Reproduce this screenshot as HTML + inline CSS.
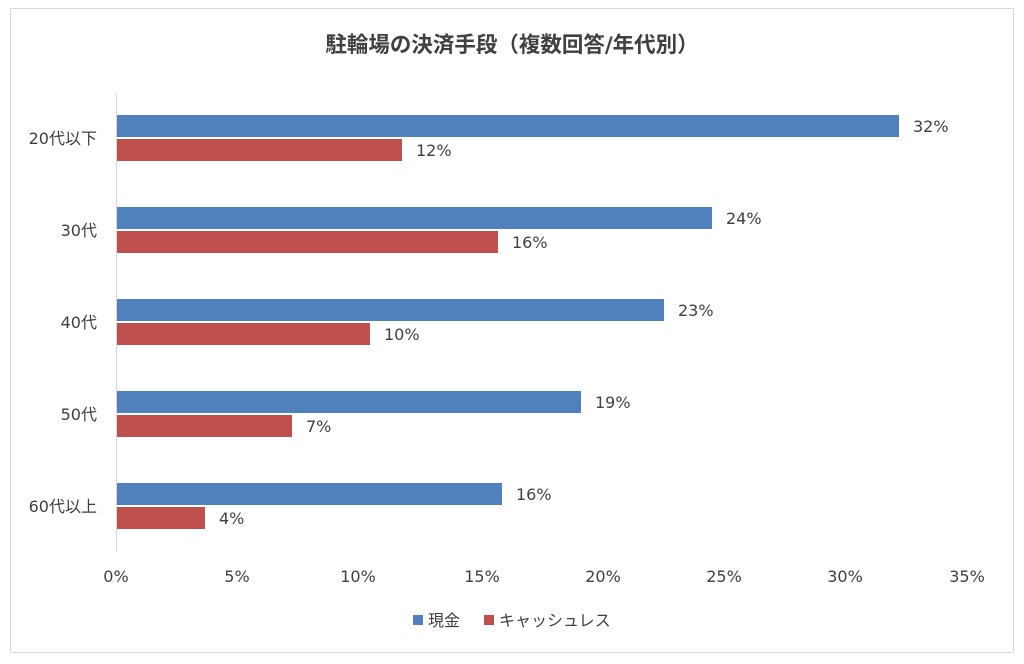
<!DOCTYPE html>
<html><head><meta charset="utf-8"><style>
body{margin:0;background:#fff;}
svg text{font-family:"DejaVu Sans","Noto Sans CJK JP",sans-serif;fill:#404040;}
</style></head><body>
<svg width="1024" height="659" xmlns="http://www.w3.org/2000/svg">
<rect x="10.5" y="8.5" width="1003" height="644" fill="#fff" stroke="#d9d9d9"/>
<text x="512" y="52" text-anchor="middle" font-size="21.5" font-weight="bold" fill="#595959">駐輪場の決済手段（複数回答/年代別）</text>
<line x1="116.5" y1="93" x2="116.5" y2="551" stroke="#d9d9d9"/>
<g fill="#4f81bd">
<rect x="117" y="115" width="782" height="22"/>
<rect x="117" y="207" width="595" height="22"/>
<rect x="117" y="299" width="547" height="22"/>
<rect x="117" y="391" width="464" height="22"/>
<rect x="117" y="483" width="385" height="22"/>
</g>
<g fill="#c0504d">
<rect x="117" y="139" width="285" height="22"/>
<rect x="117" y="231" width="381" height="22"/>
<rect x="117" y="323" width="253" height="22"/>
<rect x="117" y="415" width="175" height="22"/>
<rect x="117" y="507" width="88" height="22"/>
</g>
<g font-size="16">
<text x="913" y="132">32%</text><text x="416" y="156">12%</text>
<text x="726" y="224">24%</text><text x="512" y="248">16%</text>
<text x="678" y="316">23%</text><text x="384" y="340">10%</text>
<text x="595" y="408">19%</text><text x="306" y="432">7%</text>
<text x="516" y="500">16%</text><text x="219" y="524">4%</text>
</g>
<g font-size="16" text-anchor="end">
<text x="97" y="144">20代以下</text>
<text x="97" y="236">30代</text>
<text x="97" y="328">40代</text>
<text x="97" y="420">50代</text>
<text x="97" y="512">60代以上</text>
</g>
<g font-size="16" text-anchor="middle">
<text x="116" y="582">0%</text><text x="237" y="582">5%</text><text x="358" y="582">10%</text>
<text x="482" y="582">15%</text><text x="603" y="582">20%</text><text x="724" y="582">25%</text>
<text x="845" y="582">30%</text><text x="967" y="582">35%</text>
</g>
<rect x="413" y="615" width="10" height="10" fill="#4f81bd"/>
<text x="428" y="626" font-size="16">現金</text>
<rect x="484" y="615" width="10" height="10" fill="#c0504d"/>
<text x="499" y="626" font-size="16">キャッシュレス</text>
</svg>
</body></html>
